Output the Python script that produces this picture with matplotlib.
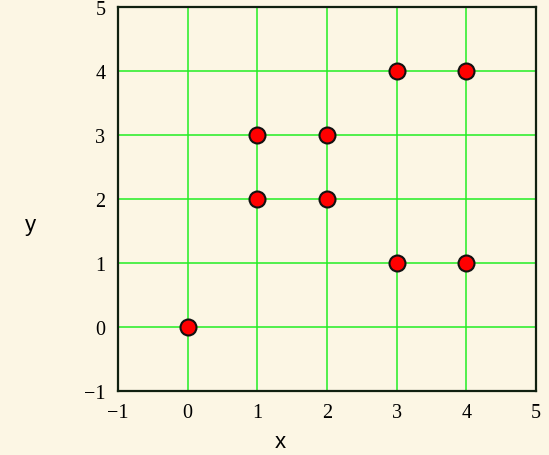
import matplotlib.pyplot as plt

# data points
x_vals = [0, 1, 1, 2, 2, 3, 3, 4, 4]
y_vals = [0, 2, 3, 2, 3, 1, 4, 1, 4]
ticks = [-1, 0, 1, 2, 3, 4, 5]

bg = '#fcf6e4'

fig = plt.figure(figsize=(5.49, 4.56), dpi=100, facecolor=bg)
ax = fig.add_axes([118/549, 1 - 392/456, 418/549, 384/456])
ax.set_facecolor(bg)

ax.set_xlim(-1, 5)
ax.set_ylim(-1, 5)
ax.set_xticks(ticks)
ax.set_yticks(ticks)
ax.set_xticklabels(['\u22121' if t < 0 else str(t) for t in ticks])
ax.set_yticklabels(['\u22121' if t < 0 else str(t) for t in ticks])

ax.grid(True, color='#22ee22', linewidth=1.1)
ax.set_axisbelow(True)
ax.tick_params(length=0, pad=9, labelsize=14.5)
for lab in ax.get_xticklabels() + ax.get_yticklabels():
    lab.set_fontfamily('Liberation Serif')

for s in ax.spines.values():
    s.set_color('#102010')
    s.set_linewidth(1.6)

ax.plot(x_vals, y_vals, 'o', color='red', markeredgecolor='#111111',
        markeredgewidth=1.5, markersize=11.5, clip_on=False, zorder=3)

fig.text(30/549, 1 - 225/456, 'y', fontsize=16, family='Liberation Sans',
         ha='center', va='center')
fig.text(280/549, 1 - 443/456, 'x', fontsize=16, family='Liberation Sans',
         ha='center', va='center')

fig.savefig('out.png', dpi=100, facecolor=bg)
